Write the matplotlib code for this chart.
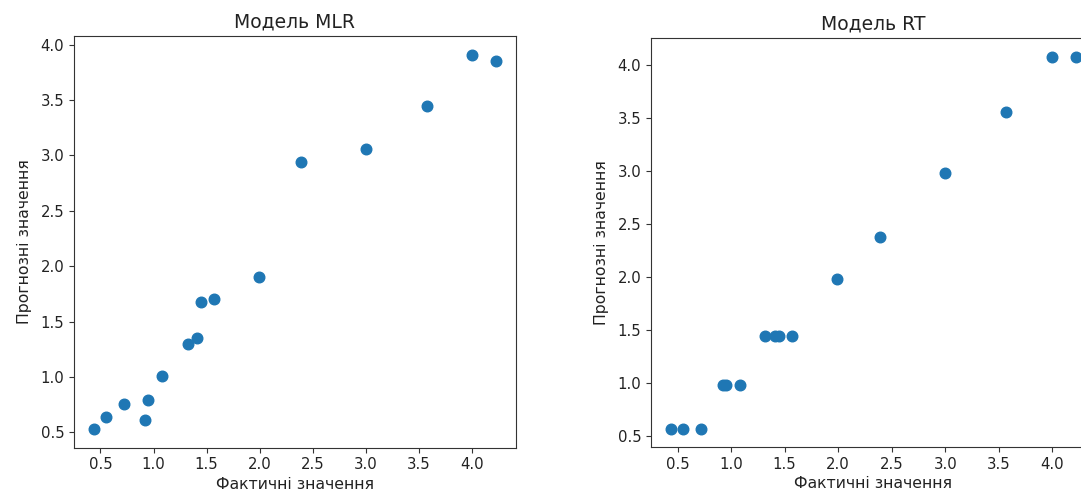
import matplotlib
matplotlib.use("Agg")
import matplotlib.pyplot as plt

actual = [0.44, 0.55, 0.72, 0.92, 0.95, 1.08, 1.32, 1.41, 1.45, 1.57, 1.99, 2.39, 3.00, 3.57, 4.00, 4.22]
pred_mlr = [0.53, 0.64, 0.76, 0.61, 0.79, 1.01, 1.30, 1.35, 1.68, 1.70, 1.90, 2.94, 3.06, 3.45, 3.91, 3.85]
pred_rt = [0.57, 0.57, 0.57, 0.98, 0.98, 0.98, 1.44, 1.44, 1.44, 1.44, 1.98, 2.38, 2.98, 3.56, 4.08, 4.08]

titles = ["Модель MLR", "Модель RT"]
xlabel = "Фактичні значення"
ylabel = "Прогнозні значення"

W, H = 1081, 493
fig = plt.figure(figsize=(W / 100, H / 100), dpi=100)

def px_axes(l, t, r, b):
    return fig.add_axes([l / W, (H - b) / H, (r - l) / W, (b - t) / H])

ax1 = px_axes(74, 36, 515.7, 447.7)
ax2 = px_axes(651, 38, 1096, 447.3)

for ax, pred, title in [(ax1, pred_mlr, titles[0]), (ax2, pred_rt, titles[1])]:
    ax.scatter(actual, pred, s=58, color="#1f77b4")
    ax.set_title(title, fontsize=13.5, color="#222222", pad=6)
    ax.set_xlabel(xlabel, fontsize=11.3, color="#222222", labelpad=3)
    ax.set_ylabel(ylabel, fontsize=11.3, color="#222222", labelpad=6)
    ax.tick_params(labelsize=10.7)
    ax.set_xticks([0.5, 1.0, 1.5, 2.0, 2.5, 3.0, 3.5, 4.0])
    ax.set_yticks([0.5, 1.0, 1.5, 2.0, 2.5, 3.0, 3.5, 4.0])
    for s in ax.spines.values():
        s.set_color("#333333")
    ax.tick_params(color="#333333", labelcolor="#222222")

fig.savefig("out.png", dpi=100)
